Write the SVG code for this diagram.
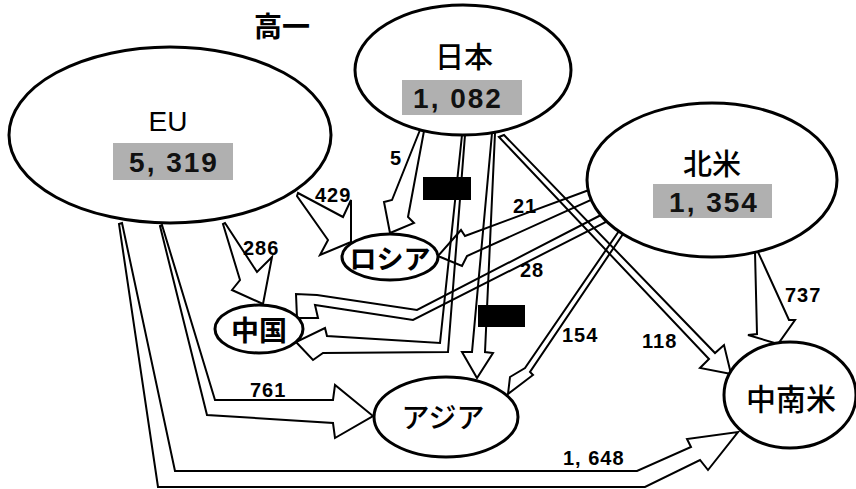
<svg xmlns="http://www.w3.org/2000/svg" width="856" height="489" viewBox="0 0 856 489">
<style>
.arr{fill:none;stroke:#000;stroke-width:2;stroke-linejoin:miter}
.node{fill:#fff;stroke:#000;stroke-width:3}
.box{fill:#b0b0b0}
.jp{font-family:"Noto Sans CJK JP","Noto Sans",sans-serif;fill:#000;text-anchor:middle}
.lat{font-family:"Liberation Sans",Arial,sans-serif;fill:#000;text-anchor:middle}
.num{font-family:"Liberation Sans",Arial,sans-serif;font-weight:bold;font-size:20px;fill:#000;letter-spacing:1px}
.val{font-family:"Liberation Sans",Arial,sans-serif;font-weight:bold;font-size:28px;fill:#111;text-anchor:middle;letter-spacing:2px}
</style>
<rect width="856" height="489" fill="#fff"/>
<text class="jp" x="282" y="37" font-size="28" font-weight="bold">高一</text>
<g id="connectors">
<polygon class="arr" points="298,193 343,217 351,200 351,242 320,255 328,240 297,196"/>
<polygon class="arr" points="225,223 257,272 272,257 263,304 232,290 240,280 223,224"/>
<polygon class="arr" points="420,130 392,200 384,202 390,233 414,223 408,217 424,131"/>
<polygon class="arr" points="462,135 440,343 327,336 325,328 296,342 313,360 323,353 448,352 465,135"/>
<polygon class="arr" points="492,133 472,352 462,352 477,378 493,353 485,352 495,133"/>
<polygon class="arr" points="499,137 709,359 700,368 731,374 724,345 715,353 504,135"/>
<polygon class="arr" points="589,190 465,236 461,230 438,256 462,266 467,256 591,200"/>
<polygon class="arr" points="601,215 417,310 317,295 296,294 297,318 318,318 315,305 413,320 606,222"/>
<polygon class="arr" points="619,231 525,368 510,377 508,394 533,375 530,372 623,234"/>
<polygon class="arr" points="755,252 757,334 748,335 778,344 795,320 789,320 758,252"/>
<polygon class="arr" points="162,225 215,400 333,400 335,385 373,416 335,438 333,423 207,415 160,226"/>
<polygon class="arr" points="122,223 175,471 637,471 691,447 687,439 738,432 708,470 700,460 645,487 158,487 119,224"/>
</g>
<g id="eu">
<ellipse class="node" cx="170" cy="135" rx="161" ry="88"/>
<text class="lat" x="168" y="131" font-size="28">EU</text>
<rect class="box" x="113" y="143" width="120" height="37"/>
<text class="val" x="174" y="172">5, 319</text>
</g>
<g id="japan">
<ellipse class="node" cx="463" cy="70" rx="108" ry="65"/>
<text class="jp" x="464" y="68" font-size="29" font-weight="500">日本</text>
<rect class="box" x="402" y="80" width="120" height="35"/>
<text class="val" x="458" y="108">1, 082</text>
</g>
<g id="northamerica">
<ellipse class="node" cx="712" cy="180" rx="125" ry="77"/>
<text class="jp" x="712" y="175" font-size="29" font-weight="500">北米</text>
<rect class="box" x="653" y="184" width="119" height="34"/>
<text class="val" x="714" y="212">1, 354</text>
</g>
<g id="russia">
<ellipse class="node" cx="390" cy="257" rx="48" ry="23"/>
<text class="jp" x="390" y="269" font-size="27" font-weight="bold">ロシア</text>
</g>
<g id="china">
<ellipse class="node" cx="259" cy="329" rx="44" ry="24"/>
<text class="jp" x="259" y="341" font-size="28" font-weight="bold">中国</text>
</g>
<g id="asia">
<ellipse class="node" cx="446" cy="417" rx="72" ry="40"/>
<text class="jp" x="443" y="428" font-size="28" font-weight="500">アジア</text>
</g>
<g id="latinamerica">
<ellipse class="node" cx="790" cy="395" rx="66" ry="53"/>
<text class="jp" x="791" y="410" font-size="30" font-weight="500">中南米</text>
</g>
<g id="labels">
<text class="num" x="390" y="165">5</text>
<text class="num" x="315" y="202">429</text>
<text class="num" x="243" y="255">286</text>
<text class="num" x="513" y="213">21</text>
<text class="num" x="520" y="277">28</text>
<text class="num" x="562" y="342">154</text>
<text class="num" x="642" y="348">118</text>
<text class="num" x="785" y="302">737</text>
<text class="num" x="250" y="397">761</text>
<text class="num" x="563" y="465">1, 648</text>
<rect x="423" y="177" width="48" height="23" fill="#000"/>
<rect x="478" y="305" width="47" height="22" fill="#000"/>
</g>
</svg>
